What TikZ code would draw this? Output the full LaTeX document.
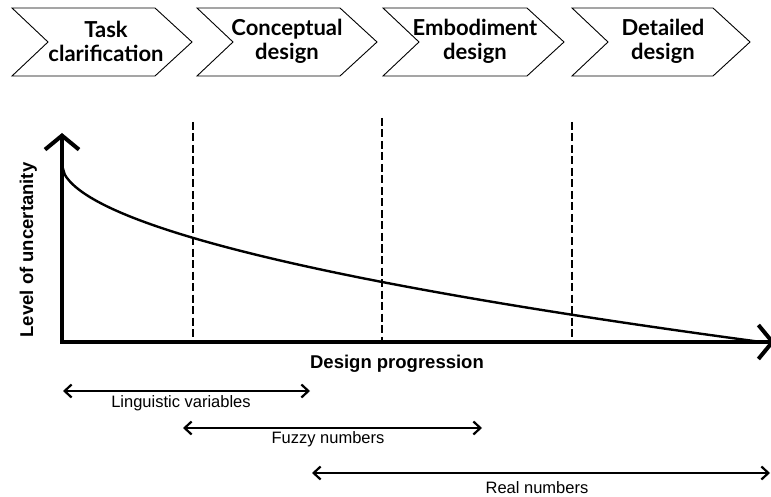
\documentclass[tikz,border=0pt]{standalone}
\usepackage{fontspec}
\setmainfont{Liberation Sans}
\newfontfamily\chevfont{Lato}
\usetikzlibrary{arrows.meta}
\tikzset{
  chev/.style={draw=black, line width=0.9pt, fill=white},
  chevtext/.style={font=\chevfont\bfseries\fontsize{22}{24}\selectfont, align=center, inner sep=0pt},
  axis/.style={line width=4pt, -{Straight Barb[length=14pt,width=34pt,line width=4pt]}},
  phase/.style={line width=2.2pt, dash pattern=on 8pt off 3.5pt},
  spanarrow/.style={line width=2pt, {Straight Barb[length=7pt,width=13pt,line width=2.2pt]}-{Straight Barb[length=7pt,width=13pt,line width=2.2pt]}},
  rangelabel/.style={font=\fontsize{16.5}{19}\selectfont, inner sep=0pt, anchor=base},
  axlabel/.style={font=\bfseries\fontsize{18.5}{21}\selectfont, inner sep=0pt, anchor=base}
}
\begin{document}
\begin{tikzpicture}[x=1pt,y=-1pt]
\useasboundingbox (0,0) rectangle (771,497);
% chevrons
\foreach \a/\b in {12/155, 197/340, 383/527, 572/713}{
  \draw[chev] (\a,8) -- (\b,8) -- ({\b+37},42) -- (\b,76) -- (\a,76) -- ({\a+36},42) -- cycle;
}
\node[chevtext] (c1) at (106,41) {Task\\clarification};
\node[chevtext] (c2) at (287,41) {Conceptual\\design};
\node[chevtext] (c3) at (475,41) {Embodiment\\design};
\node[chevtext] (c4) at (663,41) {Detailed\\design};
% axes
\coordinate (O) at (62,342);
\coordinate (Ytop) at (62,133);
\coordinate (Xend) at (775,342);
% dashed phase lines
\coordinate (d1t) at (193,122); \coordinate (d1b) at (193,342);
\coordinate (d2t) at (382,118); \coordinate (d2b) at (382,342);
\coordinate (d3t) at (572,122); \coordinate (d3b) at (572,342);
\draw[phase] (d1t) -- (d1b);
\draw[phase] (d2t) -- (d2b);
\draw[phase] (d3t) -- (d3b);
% curve
\draw[line width=2.4pt, line cap=round] plot[domain=0.0001:695, samples=250, smooth] ({62+\x},{165+5.5*(\x)^0.53});
\draw[axis] ([yshift=2pt]O) -- (Ytop);
\draw[axis] ([xshift=-2pt]O) -- (Xend);
\node[axlabel, rotate=90] (ylab) at (33,250) {Level of uncertanity};
\node[axlabel] (xlab) at (397,368) {Design progression};
% ranges
\coordinate (r1a) at (63,391); \coordinate (r1b) at (310,391);
\coordinate (r2a) at (183,428); \coordinate (r2b) at (482,428);
\coordinate (r3a) at (312,473); \coordinate (r3b) at (770,473);
\draw[spanarrow] (r1a) -- (r1b);
\draw[spanarrow] (r2a) -- (r2b);
\draw[spanarrow] (r3a) -- (r3b);
\node[rangelabel] (l1) at (181,407) {Linguistic variables};
\node[rangelabel] (l2) at (328,443) {Fuzzy numbers};
\node[rangelabel] (l3) at (537,493) {Real numbers};
\end{tikzpicture}
\end{document}
